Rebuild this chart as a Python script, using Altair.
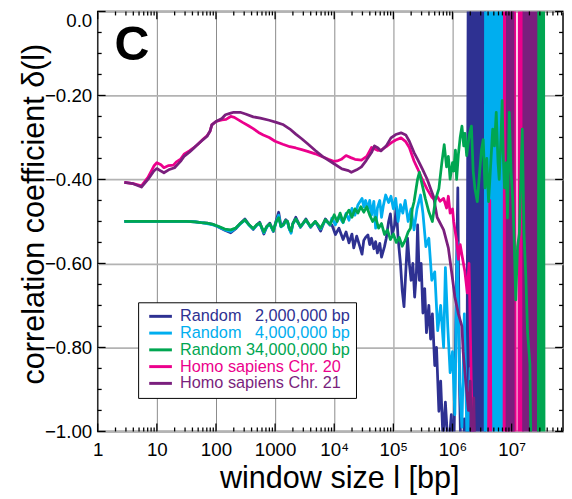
import altair as alt
import pandas as pd

FONT = "Liberation Sans"
W, H = 472, 426
X_MAX = 7.4e7

SERIES = [
    "Random\u00a0\u00a0\u00a02,000,000 bp",
    "Random\u00a0\u00a0\u00a04,000,000 bp",
    "Random 34,000,000 bp",
    "Homo sapiens Chr. 20",
    "Homo sapiens Chr. 21",
]
COLORS = ["#2E3192", "#00AEEF", "#00A651", "#EC008C", "#7A1F7D"]
PANEL = ["C"]

# window sizes are read as log10(l) positions
RAND_EARLY_LOG = [0.45, 0.8, 1.2, 1.5, 1.65, 1.75, 1.85, 1.95, 2.05, 2.15, 2.25, 2.33, 2.41,
                  2.49, 2.56, 2.63, 2.69, 2.74, 2.81, 2.86, 2.91, 2.97, 3.02, 3.06, 3.1, 3.14,
                  3.18, 3.21, 3.24, 3.27, 3.3, 3.35, 3.43, 3.52, 3.6, 3.68, 3.77, 3.85, 3.93]
GREEN_EARLY = [-0.500, -0.500, -0.500, -0.500, -0.501, -0.503, -0.504, -0.507, -0.512, -0.518,
               -0.520, -0.516, -0.505, -0.496, -0.508, -0.517, -0.508, -0.504, -0.525, -0.512,
               -0.506, -0.522, -0.500, -0.491, -0.512, -0.508, -0.498, -0.500, -0.516, -0.523,
               -0.505, -0.494, -0.512, -0.496, -0.512, -0.500, -0.516, -0.496, -0.507]
BLUE_EARLY = [-0.500, -0.500, -0.500, -0.500, -0.501, -0.503, -0.504, -0.507, -0.514, -0.521,
              -0.527, -0.518, -0.505, -0.494, -0.508, -0.519, -0.508, -0.502, -0.530, -0.512,
              -0.504, -0.524, -0.497, -0.478, -0.512, -0.506, -0.496, -0.500, -0.518, -0.525,
              -0.505, -0.490, -0.514, -0.494, -0.514, -0.500, -0.523, -0.494, -0.509]
CYAN_EARLY = [-0.500, -0.500, -0.500, -0.500, -0.501, -0.503, -0.505, -0.508, -0.513, -0.520,
              -0.524, -0.517, -0.506, -0.497, -0.509, -0.518, -0.509, -0.505, -0.527, -0.513,
              -0.507, -0.523, -0.501, -0.485, -0.513, -0.509, -0.499, -0.501, -0.518, -0.528,
              -0.506, -0.495, -0.513, -0.497, -0.513, -0.501, -0.518, -0.497, -0.508]

BLUE_LATE_LOG = [3.96, 4.02, 4.08, 4.15, 4.2, 4.25, 4.3, 4.33, 4.38, 4.43, 4.47, 4.5, 4.53,
                 4.57, 4.6, 4.63, 4.67, 4.7, 4.73, 4.77, 4.8, 4.85, 4.88, 4.92, 4.95, 4.98,
                 5.02, 5.05, 5.08, 5.12, 5.15, 5.18, 5.21, 5.24, 5.27, 5.3, 5.33, 5.36, 5.39,
                 5.41, 5.44, 5.47, 5.5, 5.53, 5.56, 5.6, 5.63, 5.66, 5.7, 5.73, 5.77, 5.8,
                 5.84, 5.88, 5.93, 5.98, 6.02, 6.06, 6.09, 6.12, 6.16, 6.2, 6.24,
                 6.27, 6.285, 6.30, 6.31, 6.34, 6.365, 6.39, 6.415, 6.44, 6.465, 6.49, 6.515,
                 6.54, 6.55]
BLUE_LATE = [-0.508, -0.531, -0.516, -0.543, -0.525, -0.551, -0.530, -0.563, -0.535, -0.558,
             -0.578, -0.545, -0.538, -0.532, -0.555, -0.540, -0.565, -0.548, -0.575, -0.552,
             -0.585, -0.560, -0.540, -0.500, -0.482, -0.530, -0.510, -0.465, -0.540, -0.600,
             -0.664, -0.703, -0.620, -0.540, -0.600, -0.640, -0.600, -0.680, -0.620, -0.508,
             -0.640, -0.600, -0.718, -0.660, -0.765, -0.700, -0.780, -0.720, -0.843, -0.800,
             -0.952, -0.880, -1.02, -0.93, -1.05, -0.96, -1.08, -0.70, -0.42, -0.90, -1.2,
             -0.97, -1.2,
             0.3, -1.3, 0.3, -1.3, 0.3, -1.3, 0.3, -1.3, 0.3, -1.3, 0.3, -1.3, 0.3, -1.3]

CYAN_LATE_LOG = [3.96, 4.02, 4.08, 4.15, 4.2, 4.25, 4.3, 4.35, 4.4, 4.47, 4.5, 4.53, 4.57,
                 4.6, 4.63, 4.67, 4.7, 4.73, 4.77, 4.8, 4.83, 4.87, 4.92, 4.96, 5.0, 5.04,
                 5.08, 5.12, 5.16, 5.2, 5.25, 5.3, 5.35, 5.4, 5.46, 5.5, 5.55, 5.6, 5.65,
                 5.7, 5.75, 5.8, 5.85, 5.88, 5.92, 5.96, 6.0, 6.04, 6.08, 6.12, 6.16, 6.2,
                 6.25, 6.3, 6.36,
                 6.55, 6.56, 6.575, 6.59, 6.6, 6.63, 6.655, 6.68, 6.705, 6.73, 6.755, 6.78,
                 6.805, 6.83, 6.85]
CYAN_LATE = [-0.492, -0.508, -0.488, -0.503, -0.481, -0.497, -0.469, -0.485, -0.461, -0.445,
             -0.465, -0.450, -0.470, -0.450, -0.485, -0.452, -0.516, -0.468, -0.450, -0.490,
             -0.463, -0.437, -0.455, -0.440, -0.470, -0.445, -0.500, -0.460, -0.480, -0.450,
             -0.500, -0.470, -0.520, -0.470, -0.437, -0.480, -0.560, -0.540, -0.640, -0.620,
             -0.760, -0.700, -0.800, -0.610, -0.750, -0.860, -0.810, -0.960, -0.550, -0.880,
             -0.990, -0.720, -1.05, -0.85, -1.2,
             -1.3, 0.3, -1.3, 0.3, -1.3, 0.3, -1.3, 0.3, -1.3, 0.3, -1.3, 0.3, -1.3, 0.3, -1.3]

GREEN_LATE_LOG = [3.96, 4.0, 4.05, 4.1, 4.15, 4.2, 4.25, 4.3, 4.35, 4.4, 4.45, 4.5, 4.55,
                  4.6, 4.65, 4.7, 4.75, 4.8, 4.85, 4.9, 4.95, 5.0, 5.05, 5.1, 5.15, 5.2,
                  5.25, 5.29, 5.32, 5.35, 5.41, 5.44, 5.49, 5.54, 5.6, 5.66, 5.71, 5.77,
                  5.82, 5.86, 5.9, 5.93, 5.96, 6.0, 6.02, 6.05, 6.07, 6.1, 6.13, 6.16, 6.19,
                  6.21, 6.24, 6.26, 6.29, 6.32, 6.35, 6.38, 6.42, 6.46, 6.49, 6.52, 6.55,
                  6.58, 6.61, 6.64, 6.68, 6.71, 6.74, 6.77, 6.79, 6.82, 6.84, 6.86, 6.88,
                  6.91, 6.93, 6.96, 6.99, 7.02, 7.04, 7.07, 7.1, 7.13, 7.16, 7.18, 7.21,
                  7.24, 7.27, 7.31, 7.33, 7.4,
                  7.45, 7.46, 7.48, 7.5, 7.52, 7.54, 7.55]
GREEN_LATE = [-0.497, -0.484, -0.500, -0.480, -0.502, -0.484, -0.473, -0.490, -0.470, -0.480,
              -0.465, -0.478, -0.465, -0.485, -0.500, -0.490, -0.516, -0.505, -0.531, -0.520,
              -0.543, -0.530, -0.550, -0.538, -0.559, -0.545, -0.525, -0.516, -0.470, -0.453,
              -0.399, -0.383, -0.414, -0.445, -0.477, -0.500, -0.450, -0.422, -0.360, -0.317,
              -0.370, -0.345, -0.399, -0.360, -0.380, -0.330, -0.400, -0.340, -0.300, -0.273,
              -0.320, -0.290, -0.343, -0.320, -0.290, -0.273, -0.380, -0.422, -0.453, -0.380,
              -0.330, -0.305, -0.420, -0.350, -0.453, -0.380, -0.280, -0.320, -0.240, -0.360,
              -0.400, -0.300, -0.212, -0.350, -0.420, -0.360, -0.492, -0.240, -0.380, -0.450,
              -0.530, -0.687, -0.560, -0.530, -0.380, -0.280, -0.530, -0.630, -0.765, -0.840,
              -1.100, -1.200,
              -1.3, 0.3, -1.3, 0.3, -1.3, 0.3, -1.3]

PINK_LOG = [0.45, 0.6, 0.74, 0.85, 0.95, 1.0, 1.07, 1.12, 1.2, 1.28, 1.33, 1.4, 1.46, 1.55,
            1.62, 1.68, 1.76, 1.85, 1.9, 1.93, 2.0, 2.1, 2.17, 2.25, 2.31, 2.38, 2.45, 2.55,
            2.63, 2.72, 2.8, 2.9, 3.0, 3.13, 3.25, 3.35, 3.45, 3.55, 3.68, 3.8, 3.9, 3.99,
            4.05, 4.12, 4.2, 4.28, 4.35, 4.46, 4.55, 4.63, 4.68, 4.74, 4.79, 4.88, 4.96,
            5.04, 5.13, 5.21, 5.27, 5.35, 5.41, 5.49, 5.57, 5.65, 5.7, 5.74, 5.79, 5.85,
            5.9, 5.93, 5.96, 6.0, 6.02, 6.07, 6.1, 6.13, 6.16, 6.21, 6.25, 6.28, 6.32, 6.36,
            6.6, 6.63, 6.66, 6.87, 6.88, 6.9, 6.915, 6.93, 7.01, 7.02, 7.035, 7.05, 7.065,
            7.12, 7.13, 7.15, 7.17, 7.185]
PINK = [-0.407, -0.410, -0.415, -0.395, -0.368, -0.360, -0.365, -0.372, -0.367, -0.366,
        -0.358, -0.352, -0.340, -0.332, -0.325, -0.318, -0.307, -0.296, -0.285, -0.270,
        -0.262, -0.258, -0.257, -0.250, -0.252, -0.258, -0.264, -0.272, -0.279, -0.288,
        -0.294, -0.300, -0.309, -0.316, -0.322, -0.325, -0.329, -0.333, -0.339, -0.346,
        -0.352, -0.357, -0.356, -0.352, -0.343, -0.348, -0.352, -0.354, -0.345, -0.324,
        -0.327, -0.331, -0.330, -0.322, -0.313, -0.306, -0.301, -0.310, -0.324, -0.356,
        -0.374, -0.400, -0.423, -0.442, -0.448, -0.440, -0.452, -0.445, -0.468, -0.440,
        -0.480, -0.470, -0.500, -0.546, -0.590, -0.555, -0.580, -0.620, -0.670, -0.600,
        -0.900, -1.100,
        -1.3, -0.45, -1.3, -1.3, 0.3, -1.3, 0.3, -1.3, -1.3, 0.3, -1.3, 0.3, -1.3,
        -1.3, 0.3, -1.3, 0.3, -1.3]

PURPLE_LOG = [0.45, 0.6, 0.74, 0.85, 0.95, 1.0, 1.07, 1.12, 1.2, 1.3, 1.4, 1.46, 1.55, 1.62,
              1.68, 1.76, 1.85, 1.9, 1.93, 2.0, 2.1, 2.16, 2.25, 2.3, 2.41, 2.5, 2.63, 2.75,
              2.9, 3.02, 3.13, 3.25, 3.35, 3.45, 3.55, 3.68, 3.8, 3.99, 4.13, 4.24, 4.29,
              4.38, 4.46, 4.54, 4.63, 4.68, 4.74, 4.79, 4.88, 4.96, 5.04, 5.13, 5.21, 5.27,
              5.35, 5.41, 5.49, 5.57, 5.68, 5.74, 5.85, 5.93, 5.99, 6.04, 6.1, 6.16, 6.18,
              6.24, 6.27, 6.3, 6.33, 6.36, 6.4,
              6.92, 6.93, 6.945, 6.96, 6.975, 6.99, 7.005, 7.02, 7.03, 7.2, 7.21, 7.23, 7.25,
              7.265, 7.28, 7.305, 7.33, 7.355, 7.38, 7.405, 7.43, 7.455]
PURPLE = [-0.407, -0.410, -0.418, -0.400, -0.380, -0.374, -0.380, -0.384, -0.377, -0.372,
          -0.357, -0.345, -0.335, -0.326, -0.318, -0.308, -0.297, -0.285, -0.270, -0.262,
          -0.255, -0.246, -0.242, -0.240, -0.240, -0.244, -0.251, -0.254, -0.259, -0.264,
          -0.269, -0.280, -0.292, -0.303, -0.315, -0.331, -0.345, -0.362, -0.375, -0.379,
          -0.383, -0.377, -0.370, -0.355, -0.336, -0.320, -0.325, -0.332, -0.320, -0.301,
          -0.293, -0.289, -0.294, -0.309, -0.336, -0.352, -0.375, -0.399, -0.441, -0.490,
          -0.520, -0.563, -0.625, -0.680, -0.720, -0.750, -0.810, -0.905, -0.950, -0.880,
          -1.100, -0.920, -1.200,
          -1.3, 0.3, -1.3, 0.3, -1.3, 0.3, -1.3, 0.3, -1.3, -1.3, 0.3, -1.3, 0.3, -1.3,
          0.3, -1.3, 0.3, -1.3, 0.3, -1.3, 0.3, -1.3]

X_MAJOR = [1, 10, 100, 1000, 10000, 100000, 1000000, 10000000]
X_MINOR = [m * 10 ** k for k in range(8) for m in range(2, 10) if m * 10 ** k <= X_MAX]
Y_MAJOR = [-1.0, -0.8, -0.6, -0.4, -0.2, 0.0]
Y_MINOR = [-0.95, -0.9, -0.85, -0.75, -0.7, -0.65, -0.55, -0.5, -0.45,
           -0.35, -0.3, -0.25, -0.15, -0.1, -0.05]
MAJOR_LEN, MINOR_LEN = 8, 4


def frame(name, logs, vals):
    return pd.DataFrame({"window": [10 ** e for e in logs], "delta": vals, "series": name})


df_blue = frame(SERIES[0], RAND_EARLY_LOG + BLUE_LATE_LOG, BLUE_EARLY + BLUE_LATE)
df_cyan = frame(SERIES[1], RAND_EARLY_LOG + CYAN_LATE_LOG, CYAN_EARLY + CYAN_LATE)
df_green = frame(SERIES[2], RAND_EARLY_LOG + GREEN_LATE_LOG, GREEN_EARLY + GREEN_LATE)
df_pink = frame(SERIES[3], PINK_LOG, PINK)
df_purple = frame(SERIES[4], PURPLE_LOG, PURPLE)

color_scale = alt.Scale(domain=SERIES, range=COLORS)
x_scale = alt.Scale(type="log", domain=[1, X_MAX], nice=False)
y_scale = alt.Scale(domain=[-1.0, 0.0], nice=False, zero=False)

x_main = alt.Axis(
    orient="bottom", values=X_MAJOR, ticks=False, tickSize=0, domain=False,
    grid=True, gridColor="#8a8a8a", gridWidth=1,
    labelExpr="datum.value < 10000 ? format(datum.value, 'd') : '10' + ['\u2074','\u2075','\u2076','\u2077'][round(log(datum.value) / LN10) - 4]",
    labelFont=FONT, labelFontSize=19, labelColor="black", labelPadding=9,
    labelFlush=False, labelOverlap=False,
    title="window size l [bp]", titleFont=FONT, titleFontSize=31, titleFontWeight="normal",
    titleColor="black", titleX=245, titleY=57, titleBaseline="alphabetic",
)
y_main = alt.Axis(
    orient="left", values=Y_MAJOR, ticks=False, tickSize=0, domain=False,
    grid=True, gridColor="#b3b3b3", gridWidth=1.8,
    labelExpr="datum.value == 0 ? '0.0' : format(datum.value, '.2f')",
    labelFont=FONT, labelFontSize=19, labelColor="black", labelPadding=6,
    labelBaseline={"condition": {"test": "datum.value == 0", "value": "top"}, "value": "middle"},
    labelFlush=False, labelOverlap=False,
    title="correlation coefficient \u03b4(l)", titleFont=FONT, titleFontSize=31,
    titleFontWeight="normal", titleColor="black", titleX=-55, titleY=205,
    titleBaseline="alphabetic",
)

legend = alt.Legend(
    orient="none", legendX=41, legendY=295, title=None, direction="vertical",
    fillColor="white", strokeColor="black", padding=6, cornerRadius=0,
    labelFont=FONT, labelFontSize=16.5, labelOffset=20, rowPadding=-1.6,
    symbolType="M-1,0H6.67", symbolSize=36, symbolStrokeWidth=3,
    labelColor={"expr": "scale('color', datum.value)"}, labelLimit=400,
)

X_ENC = alt.X("window:Q", scale=x_scale, axis=x_main)
Y_ENC = alt.Y("delta:Q", scale=y_scale, axis=y_main)


def layer(df):
    return alt.Chart(df).mark_line(clip=True, strokeWidth=2.8, strokeJoin="round").encode(
        x=X_ENC, y=Y_ENC,
        color=alt.Color("series:N", scale=color_scale, legend=legend),
    )


def x_rules(values, edge, inner):
    return alt.Chart(pd.DataFrame({"window": values})).mark_rule(
        color="black", strokeWidth=1.3).encode(
        x=X_ENC, y=alt.value(edge), y2=alt.value(inner))


def y_rules(values, edge, inner):
    return alt.Chart(pd.DataFrame({"delta": values})).mark_rule(
        color="black", strokeWidth=1.3).encode(
        y=Y_ENC, x=alt.value(edge), x2=alt.value(inner))


tick_layers = [
    x_rules(X_MAJOR, 0, MAJOR_LEN), x_rules(X_MINOR, 0, MINOR_LEN),
    x_rules(X_MAJOR, H, H - MAJOR_LEN), x_rules(X_MINOR, H, H - MINOR_LEN),
    y_rules(Y_MAJOR, 0, MAJOR_LEN), y_rules(Y_MINOR, 0, MINOR_LEN),
    y_rules(Y_MAJOR, W, W - MAJOR_LEN), y_rules(Y_MINOR, W, W - MINOR_LEN),
]

panel = alt.Chart(pd.DataFrame({"panel": PANEL})).mark_text(
    font=FONT, fontSize=49, fontWeight="bold", color="black",
    align="left", baseline="alphabetic",
).encode(text="panel:N", x=alt.value(17), y=alt.value(49))

chart = alt.layer(
    layer(df_blue),
    layer(df_cyan),
    layer(df_pink),
    layer(df_purple),
    layer(df_green),
    panel,
    *tick_layers,
).properties(
    width=W, height=H,
    autosize=alt.AutoSizeParams(type="none"),
    padding={"left": 91, "top": 0, "right": 1, "bottom": 64},
    background="white",
).configure_view(stroke="black", strokeWidth=1.5)

chart.save("out.html", embed_options={"renderer": "svg", "actions": False})
